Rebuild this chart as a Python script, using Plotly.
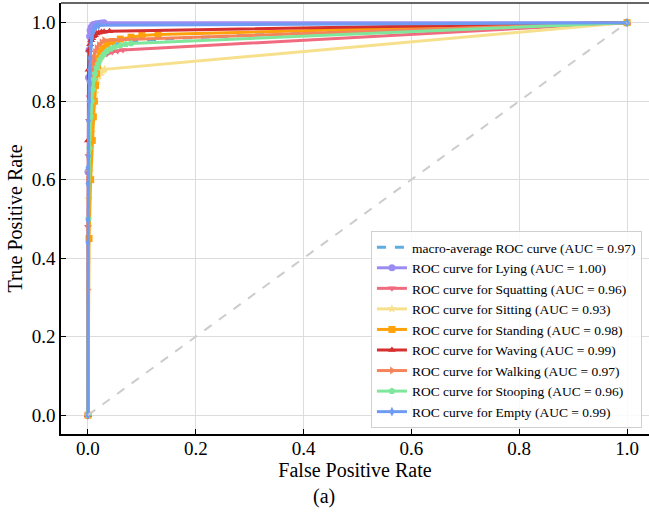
import plotly.graph_objects as go

# ROC data per activity class (false positive rate, true positive rate)
classes = ["Lying", "Squatting", "Sitting", "Standing", "Waving", "Walking", "Stooping", "Empty"]
auc_values = [1.00, 0.96, 0.93, 0.98, 0.99, 0.97, 0.96, 0.99]
macro_auc = 0.97

macro_fpr = [0, 0, 0.002, 0.005, 0.01, 0.015, 0.02, 0.03, 0.05, 0.08, 0.134, 0.319, 1]
macro_tpr = [0, 0.35, 0.70, 0.80, 0.87, 0.90, 0.92, 0.935, 0.945, 0.952, 0.958, 0.969, 1]

lying_fpr = [0, 0, 0.001, 0.002, 0.003, 0.004, 0.006, 0.008, 0.010, 0.013, 0.016, 0.020, 0.025, 0.030, 1]
lying_tpr = [0, 0.62, 0.86, 0.93, 0.965, 0.98, 0.988, 0.992, 0.995, 0.996, 0.997, 0.998, 0.999, 1.0, 1.0]

squatting_fpr = [0, 0, 0.001, 0.002, 0.003, 0.004, 0.006, 0.008, 0.011, 0.015, 0.020, 0.027, 0.035, 0.045, 0.055, 0.065, 1]
squatting_tpr = [0, 0.48, 0.66, 0.75, 0.81, 0.85, 0.87, 0.89, 0.90, 0.905, 0.91, 0.915, 0.92, 0.925, 0.928, 0.93, 1]

sitting_fpr = [0, 0.001, 0.003, 0.005, 0.007, 0.009, 0.011, 0.013, 0.015, 0.018, 0.021, 0.025, 0.028, 0.031, 1]
sitting_tpr = [0, 0.55, 0.62, 0.68, 0.72, 0.76, 0.79, 0.82, 0.84, 0.855, 0.865, 0.872, 0.877, 0.881, 1]

standing_fpr = [0, 0.002, 0.005, 0.008, 0.010, 0.012, 0.014, 0.016, 0.018, 0.020, 0.024, 0.028, 0.035, 0.045, 0.06, 0.08, 0.10, 0.13, 1]
standing_tpr = [0, 0.45, 0.60, 0.70, 0.76, 0.80, 0.84, 0.87, 0.89, 0.91, 0.925, 0.935, 0.945, 0.952, 0.958, 0.963, 0.967, 0.97, 1]

waving_fpr = [0, 0, 0.001, 0.002, 0.004, 0.006, 0.008, 0.010, 0.013, 0.016, 0.020, 0.025, 0.030, 0.040, 1]
waving_tpr = [0, 0.70, 0.88, 0.93, 0.945, 0.955, 0.96, 0.965, 0.968, 0.972, 0.974, 0.976, 0.977, 0.978, 1]

walking_fpr = [0, 0, 0, 0, 0.001, 0.002, 0.003, 0.004, 0.006, 0.008, 0.010, 0.013, 0.016, 0.020, 0.025, 0.03, 1]
walking_tpr = [0, 0.32, 0.48, 0.60, 0.66, 0.72, 0.78, 0.82, 0.86, 0.89, 0.91, 0.925, 0.935, 0.943, 0.95, 0.955, 1]

stooping_fpr = [0, 0.001, 0.003, 0.005, 0.007, 0.009, 0.011, 0.013, 0.016, 0.019, 0.022, 0.026, 0.030, 0.035, 0.042, 0.05, 0.06, 0.07, 0.08, 1]
stooping_tpr = [0, 0.50, 0.68, 0.76, 0.80, 0.83, 0.855, 0.87, 0.885, 0.895, 0.905, 0.913, 0.92, 0.927, 0.933, 0.938, 0.942, 0.945, 0.947, 1]

empty_fpr = [0, 0, 0, 0, 0, 0.001, 0.001, 0.002, 0.002, 0.003, 0.004, 0.005, 0.007, 0.009, 0.012, 0.015, 0.02, 1]
empty_tpr = [0, 0.44, 0.497, 0.59, 0.63, 0.66, 0.75, 0.80, 0.85, 0.88, 0.91, 0.94, 0.96, 0.975, 0.985, 0.99, 0.993, 1]

curves = [
    (lying_fpr, lying_tpr),
    (squatting_fpr, squatting_tpr),
    (sitting_fpr, sitting_tpr),
    (standing_fpr, standing_tpr),
    (waving_fpr, waving_tpr),
    (walking_fpr, walking_tpr),
    (stooping_fpr, stooping_tpr),
    (empty_fpr, empty_tpr),
]

colors = ["#9b8cf2", "#f06b7f", "#f7e08c", "#ffa10a", "#d62f2f", "#f5845a", "#7fe79b", "#6f9cf2"]
symbols = ["circle", "triangle-down", "star", "square", "triangle-up", "triangle-right", "pentagon", "diamond-tall"]

FONT = "Liberation Serif, Times New Roman, serif"

fig = go.Figure()

fig.add_trace(go.Scatter(
    x=macro_fpr, y=macro_tpr, mode="lines",
    line=dict(color="#5dade2", width=3, dash="dash"),
    name=f"macro-average ROC curve (AUC = {macro_auc:.2f})",
))

for cls, auc, (fpr, tpr), col, sym in zip(classes, auc_values, curves, colors, symbols):
    fig.add_trace(go.Scatter(
        x=fpr, y=tpr, mode="lines+markers",
        line=dict(color=col, width=3),
        marker=dict(symbol=sym, size=7, color=col),
        name=f"ROC curve for {cls} (AUC = {auc:.2f})",
    ))

# chance diagonal
fig.add_trace(go.Scatter(
    x=[0, 1], y=[0, 1], mode="lines",
    line=dict(color="#cccccc", width=2, dash="dash"),
    showlegend=False, hoverinfo="skip",
))

tick_vals = [0.0, 0.2, 0.4, 0.6, 0.8, 1.0]
tick_text = ["0.0", "0.2", "0.4", "0.6", "0.8", "1.0"]

axis_common = dict(
    tickvals=tick_vals, ticktext=tick_text,
    ticks="inside", ticklen=5, tickwidth=1, tickcolor="black",
    showgrid=True, gridcolor="#dcdcdc", gridwidth=1,
    zeroline=False, showline=True, linecolor="black", linewidth=1.5,
    tickfont=dict(family=FONT, size=19, color="black"),
)

fig.update_layout(
    width=649, height=514,
    paper_bgcolor="white", plot_bgcolor="white",
    margin=dict(l=61, r=0, t=3, b=80),
    font=dict(family=FONT, color="black"),
    xaxis=dict(range=[-0.05, 1.0408], mirror=False, ticklabelstandoff=-4,
               title=dict(text="False Positive Rate", font=dict(family=FONT, size=20), standoff=0),
               **axis_common),
    yaxis=dict(range=[-0.048, 1.05], mirror=False,
               title=dict(text="True Positive Rate", font=dict(family=FONT, size=20), standoff=4),
               **axis_common),
    legend=dict(
        x=0.988, y=0.014, xanchor="right", yanchor="bottom",
        bgcolor="rgba(255,255,255,0.85)", bordercolor="#d0d0d0", borderwidth=1,
        font=dict(family=FONT, size=13.5, color="black"),
        itemwidth=30, tracegroupgap=0,
    ),
    shapes=[dict(type="line", xref="paper", yref="paper", x0=0, x1=1, y0=1, y1=1,
                 line=dict(color="#333333", width=1.5))],
    annotations=[dict(text="(a)", xref="paper", yref="paper", x=(324 - 61) / 588, y=-0.145,
                      xanchor="center", yanchor="middle", showarrow=False,
                      font=dict(family=FONT, size=20, color="black"))],
)

fig.write_html("out.html")
